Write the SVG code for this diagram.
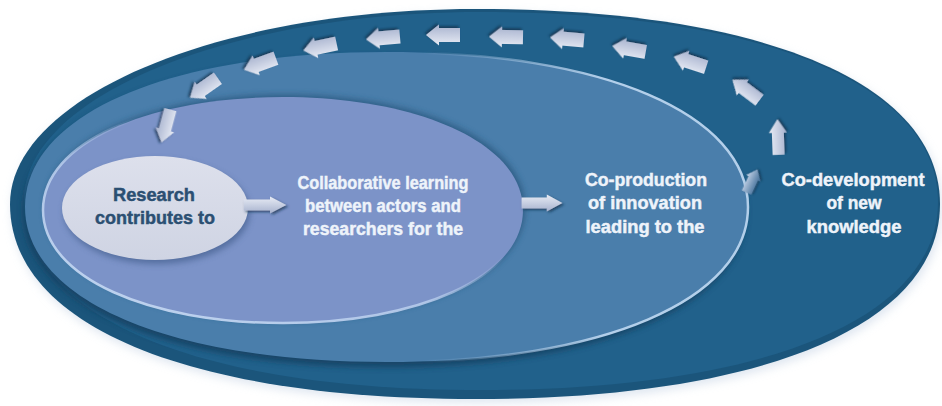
<svg xmlns="http://www.w3.org/2000/svg" xmlns:xlink="http://www.w3.org/1999/xlink" width="942" height="406" viewBox="0 0 942 406">
  <defs>
    <style>
      .lbl { font-family: "Liberation Sans", Arial, sans-serif; font-weight: bold; font-size: 18px; fill: #eef3fa; stroke: #eef3fa; stroke-width: 0.45px; text-anchor: middle; }
      .dark { fill: #2b4f72; stroke: #2b4f72; }
      .arr { fill: url(#arrGrad); filter: url(#arrShadow); }
    </style>
    <linearGradient id="arrGrad" x1="0" y1="0" x2="0" y2="1">
      <stop offset="0" stop-color="#e8ecf5"/>
      <stop offset="1" stop-color="#a7b2ce"/>
    </linearGradient>
    <linearGradient id="smallGrad" x1="0" y1="0" x2="0" y2="1">
      <stop offset="0" stop-color="#c9d6ea"/>
      <stop offset="1" stop-color="#3d6b96"/>
    </linearGradient>
    <linearGradient id="coprodStroke" x1="0" y1="0" x2="1" y2="0">
      <stop offset="0" stop-color="#a9c6e2" stop-opacity="0"/>
      <stop offset="0.55" stop-color="#a9c6e2" stop-opacity="0"/>
      <stop offset="0.8" stop-color="#b3cfea" stop-opacity="1"/>
      <stop offset="1" stop-color="#b3cfea" stop-opacity="1"/>
    </linearGradient>
    <linearGradient id="collabStroke" x1="0" y1="1" x2="0.8" y2="0">
      <stop offset="0" stop-color="#c4d8f2" stop-opacity="1"/>
      <stop offset="0.45" stop-color="#b6cbeb" stop-opacity="0.9"/>
      <stop offset="0.65" stop-color="#b6cbeb" stop-opacity="0"/>
    </linearGradient>
    <linearGradient id="researchGrad" x1="0" y1="0" x2="0" y2="1">
      <stop offset="0" stop-color="#dde0ec"/>
      <stop offset="1" stop-color="#cfd4e3"/>
    </linearGradient>
    <filter id="arrShadow" x="-40%" y="-60%" width="180%" height="220%">
      <feDropShadow dx="1.5" dy="2" stdDeviation="1.2" flood-color="#0f2f4a" flood-opacity="0.7"/>
    </filter>
    <filter id="soft" x="-10%" y="-10%" width="120%" height="120%">
      <feGaussianBlur stdDeviation="3"/>
    </filter>
    <filter id="glow" x="-5%" y="-10%" width="110%" height="120%">
      <feGaussianBlur stdDeviation="5"/>
    </filter>
    <path id="arrow" d="M-17,-7 H4 V-10.5 L17,0 L4,10.5 V7 H-17 Z"/>
  </defs>

  <rect width="942" height="406" fill="#ffffff"/>

  <g id="codevelopment">
    <path d="M940,204 C940,83 763,9 475,9 C219,9 10,97 10,204 C10,325 187,399 475,399 C763,399 940,325 940,204 Z" fill="#c9d6e6" opacity="0.6" filter="url(#glow)" transform="translate(2,4)"/>
    <path d="M940,204 C940,83 763,9 475,9 C219,9 10,97 10,204 C10,325 187,399 475,399 C763,399 940,325 940,204 Z" fill="#1b557b"/>
    <path d="M938,202 C938,84 763,12 480,12 C230,12 24,97 24,200 C24,316 195,390 482,390 C765,390 938,318 938,202 Z" fill="#21618b"/>
    <text class="lbl" x="853" y="186" textLength="143" lengthAdjust="spacingAndGlyphs">Co-development</text>
    <text class="lbl" x="854" y="209" textLength="55" lengthAdjust="spacingAndGlyphs">of new</text>
    <text class="lbl" x="854" y="233" textLength="95" lengthAdjust="spacingAndGlyphs">knowledge</text>
  </g>

  <g id="coproduction">
    <path d="M748,207 C748,114 603,52 386,52 C169,52 25,114 25,207 C25,300 169,362 386,362 C603,362 748,300 748,207 Z" fill="#133f60" opacity="0.85" filter="url(#soft)" transform="translate(-2,5)"/>
    <path d="M748,207 C748,114 603,52 386,52 C169,52 25,114 25,207 C25,300 169,362 386,362 C603,362 748,300 748,207 Z" fill="#4a7eab" stroke="url(#coprodStroke)" stroke-width="2.5"/>
    <text class="lbl" x="646" y="186" textLength="122" lengthAdjust="spacingAndGlyphs">Co-production</text>
    <text class="lbl" x="645" y="209" textLength="114" lengthAdjust="spacingAndGlyphs">of innovation</text>
    <text class="lbl" x="645" y="233" textLength="119" lengthAdjust="spacingAndGlyphs">leading to the</text>
  </g>

  <g id="collaborative">
    <path d="M523,210 C523,142 416,97 283,97 C150,97 43,142 43,210 C43,278 150,323 283,323 C416,323 523,278 523,210 Z" fill="#234f75" opacity="0.7" filter="url(#soft)" transform="translate(2,-2)"/>
    <path d="M523,210 C523,142 416,97 283,97 C150,97 43,142 43,210 C43,278 150,323 283,323 C416,323 523,278 523,210 Z" fill="#7c93c8" stroke="url(#collabStroke)" stroke-width="2.5"/>
    <text class="lbl" x="383" y="189" textLength="171" lengthAdjust="spacingAndGlyphs">Collaborative learning</text>
    <text class="lbl" x="383" y="212" textLength="156" lengthAdjust="spacingAndGlyphs">between actors and</text>
    <text class="lbl" x="383" y="235" textLength="160" lengthAdjust="spacingAndGlyphs">researchers for the</text>
  </g>

  <g id="research">
    <ellipse cx="157" cy="212" rx="93" ry="52" fill="#3b5684" opacity="0.6" filter="url(#soft)"/>
    <ellipse cx="155" cy="208" rx="93" ry="52" fill="url(#researchGrad)"/>
    <text class="lbl dark" x="154" y="201" textLength="82" lengthAdjust="spacingAndGlyphs">Research</text>
    <text class="lbl dark" x="155" y="224" textLength="120" lengthAdjust="spacingAndGlyphs">contributes to</text>
  </g>

  <g id="connectors">
    <use xlink:href="#arrow" class="arr" transform="translate(265,205) scale(1.25,0.8)"/>
    <use xlink:href="#arrow" class="arr" transform="translate(542,203) scale(1.2,0.8)"/>
    <use xlink:href="#arrow" transform="translate(752,181) rotate(-65) scale(0.75)" fill="url(#smallGrad)" filter="url(#arrShadow)"/>
    <use xlink:href="#arrow" class="arr" transform="translate(778,137) rotate(-92) scale(1.05,0.85)"/>
    <use xlink:href="#arrow" class="arr" transform="translate(746,90) rotate(-143) scale(1,0.95)"/>
    <use xlink:href="#arrow" class="arr" transform="translate(690,62) rotate(-162)"/>
    <use xlink:href="#arrow" class="arr" transform="translate(629,49) rotate(-170)"/>
    <use xlink:href="#arrow" class="arr" transform="translate(567,39) rotate(-175)"/>
    <use xlink:href="#arrow" class="arr" transform="translate(506,37) rotate(-179)"/>
    <use xlink:href="#arrow" class="arr" transform="translate(443,35) rotate(180)"/>
    <use xlink:href="#arrow" class="arr" transform="translate(383,38) rotate(175)"/>
    <use xlink:href="#arrow" class="arr" transform="translate(320,47) rotate(168)"/>
    <use xlink:href="#arrow" class="arr" transform="translate(260,64) rotate(160)"/>
    <use xlink:href="#arrow" class="arr" transform="translate(204,88) rotate(145)"/>
    <use xlink:href="#arrow" class="arr" transform="translate(166,126) rotate(105) scale(1,0.9)"/>
  </g>
</svg>
